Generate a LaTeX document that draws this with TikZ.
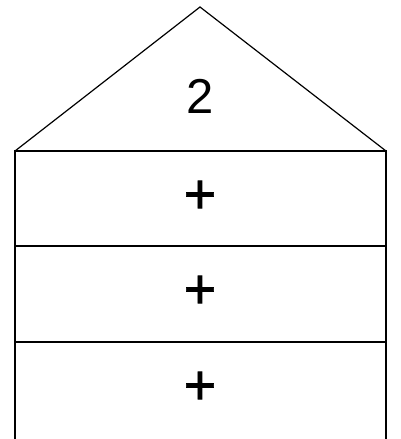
\documentclass[tikz,border=0pt]{standalone}
\usepackage{fontspec}
\setmainfont{Liberation Sans}
\newfontface\plusface[FakeBold=1.2]{Liberation Sans}
\begin{document}
\begin{tikzpicture}[x=1pt,y=-1pt,
  edge/.style={draw=black,line width=1.2pt},
  box/.style={draw=black,line width=1.6pt},
  lbl/.style={font=\fontsize{49}{49}\selectfont,inner sep=0pt},
  plus/.style={font=\plusface\fontsize{56}{56}\selectfont,inner sep=0pt}]
\useasboundingbox (0,0) rectangle (401,439);
\coordinate (apex) at (200,7);
\coordinate (bl) at (15,151);
\coordinate (br) at (386,151);
\draw[edge] (bl) -- (apex) -- (br);
\draw[box] (15,151) rectangle (386,246);
\draw[box] (15,246) rectangle (386,342);
\draw[box] (15,342) rectangle (386,440);
\node[lbl] (t) at (200,96) {2};
\node[plus] (p1) at (200,197) {+};
\node[plus] (p2) at (200,292) {+};
\node[plus] (p3) at (200,388) {+};
\end{tikzpicture}
\end{document}
